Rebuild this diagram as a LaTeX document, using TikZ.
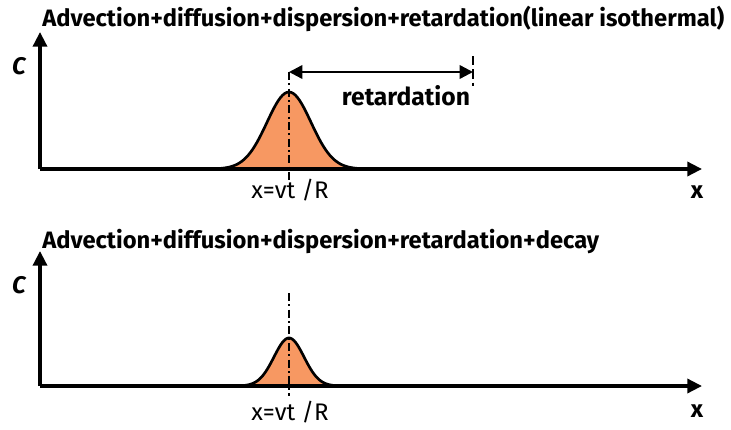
\documentclass[tikz,border=0pt]{standalone}
\usepackage{fontspec}
\setmainfont{Fira Sans}
\usepackage{xcolor}
\usetikzlibrary{arrows.meta, positioning}
\definecolor{bellorange}{RGB}{247,152,98}

\begin{document}
\begin{tikzpicture}[x=0.75pt, y=-0.75pt,
  axis/.style={line width=2.5pt, -{Triangle[length=11pt, width=10.5pt]}},
  curve/.style={line width=2pt},
  centre/.style={line width=1.2pt, dash pattern=on 6pt off 2.5pt on 1.5pt off 2.5pt},
  title/.style={font=\fontsize{17.8}{21}\selectfont\bfseries, anchor=base west, inner sep=0pt},
  lbl/.style={font=\fontsize{18}{21}\selectfont, inner sep=0pt},
  arr/.style={line width=1.8pt, {Triangle[length=10pt, width=10pt]}-{Triangle[length=10pt, width=10pt]}}]
\useasboundingbox (0,0) rectangle (731,429);
% upper panel
\node[title] (titleA) at (42,26) {Advection+diffusion+dispersion+retardation(linear isothermal)};
\coordinate (originA) at (40,169);
\coordinate (ytipA) at (40,32);
\coordinate (xtipA) at (702,169);
\fill[bellorange] plot[domain=195:385, samples=90] (\x, {169-77*exp(-((\x-289)/22)^2/2)}) -- cycle;
\draw[curve] plot[domain=195:385, samples=90] (\x, {169-77*exp(-((\x-289)/22)^2/2)});
\draw[axis] (originA) -- (ytipA);
\draw[axis] (originA) -- (xtipA);
\node[lbl, font=\fontsize{18}{21}\selectfont\bfseries\itshape] (cA) at (19,66) {C};
\node[lbl, font=\fontsize{18}{21}\selectfont\bfseries] (xA) at (697,192) {x};
\coordinate (peakA) at (289,72);
\coordinate (endA) at (473,72);
\draw[centre] (peakA) -- (289,180);
\draw[arr] (peakA) -- (endA);
\draw[line width=1.4pt, dash pattern=on 7pt off 3pt] (473,56) -- (473,86);
\node[lbl, font=\fontsize{18.5}{21}\selectfont\bfseries] (retard) at (406,96) {retardation};
\node[lbl] (posA) at (290,190) {x=vt /R};
% lower panel
\node[title] (titleB) at (42,248) {Advection+diffusion+dispersion+retardation+decay};
\coordinate (originB) at (40,386);
\coordinate (ytipB) at (40,251);
\coordinate (xtipB) at (702,386);
\fill[bellorange] plot[domain=222:356, samples=90] (\x, {386-48*exp(-((\x-289)/15)^2/2)}) -- cycle;
\draw[curve] plot[domain=222:356, samples=90] (\x, {386-48*exp(-((\x-289)/15)^2/2)});
\draw[axis] (originB) -- (ytipB);
\draw[axis] (originB) -- (xtipB);
\node[lbl, font=\fontsize{18}{21}\selectfont\bfseries\itshape] (cB) at (19,285) {C};
\node[lbl, font=\fontsize{18}{21}\selectfont\bfseries] (xB) at (697,411) {x};
\draw[centre] (289,293) -- (289,396);
\node[lbl] (posB) at (290,412) {x=vt /R};
\end{tikzpicture}
\end{document}
